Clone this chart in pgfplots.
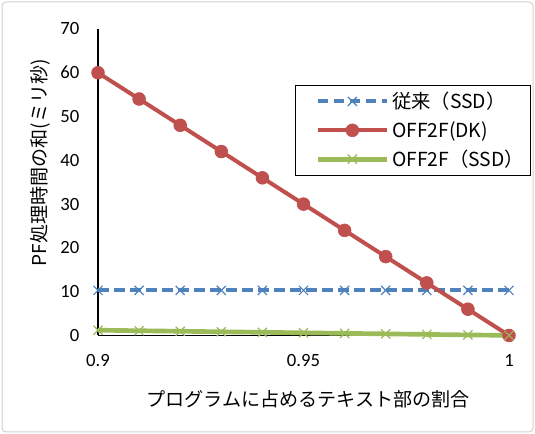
\documentclass[border=0pt]{standalone}
\usepackage{fontspec}
\setmainfont{Noto Sans CJK JP}
\newfontfamily\numfont{Carlito}
\usepackage{pgfplots}
\pgfplotsset{compat=1.18}

\definecolor{xlblue}{HTML}{4F81BD}
\definecolor{xlred}{HTML}{C0504D}
\definecolor{xlgreen}{HTML}{9BBB59}

% PF processing time vs. share of text section in the program
\pgfplotstableread{
x     base   dk    ssd
0.90  10.3   60    1.20
0.91  10.3   54    1.08
0.92  10.3   48    0.96
0.93  10.3   42    0.84
0.94  10.3   36    0.72
0.95  10.3   30    0.60
0.96  10.3   24    0.48
0.97  10.3   18    0.36
0.98  10.3   12    0.24
0.99  10.3    6    0.12
1.00  10.3    0    0.02
}\timedata

\begin{document}
\begin{tikzpicture}[x=1pt,y=1pt]
  % canvas and chart frame
  \path (0,0) rectangle (401.25,325.5);
  \draw[black!18, line width=0.75pt, rounded corners=3pt] (1.5,1.5) rectangle (399.75,324);
  \begin{axis}[
    at={(73.5pt,73.9pt)}, anchor=south west,
    scale only axis, width=308.25pt, height=229.9pt,
    xmin=0.9, xmax=1.0, ymin=0, ymax=70,
    xtick={0.9,0.95,1}, ytick={0,10,...,70},
    axis x line=bottom, axis y line=left,
    axis line style={-, black, line width=1pt},
    major tick length=0pt,
    /pgf/number format/assume math mode=true,
    ticklabel style={font=\numfont\fontsize{14}{16}\selectfont},
    xticklabel style={yshift=-10.5pt},
    yticklabel style={xshift=-10.5pt},
    xlabel={プログラムに占めるテキスト部の割合},
    ylabel={PF処理時間の和(ミリ秒)},
    label style={font=\fontsize{14.3}{16}\selectfont},
    xlabel style={at={(axis description cs:0.511,-0.207)}, anchor=center},
    ylabel style={at={(axis description cs:-0.141,0.563)}, anchor=center},
    clip=false,
    legend style={at={(axis description cs:0.479,0.817)}, anchor=north west,
      draw=black, line width=0.75pt, font=\fontsize{14.5}{17}\selectfont,
      row sep=4pt, inner sep=3pt,
      /tikz/every even column/.append style={column sep=2pt}},
    legend cell align=left,
    legend image code/.code={%
      \path (-12pt,0pt) (52pt,0pt);
      \draw[mark repeat=2, mark phase=2] plot coordinates {(0pt,0pt) (26pt,0pt) (52pt,0pt)};},
  ]
    \addplot[xlblue, line width=3pt, dash pattern=on 8pt off 4pt,
      mark=x, mark size=4.8pt, mark options={solid, line width=0.9pt}]
      table[x=x, y=base] {\timedata};
    \addlegendentry{従来（SSD）}
    \addplot[xlred, line width=3pt,
      mark=*, mark size=4.8pt, mark options={solid, fill=xlred, line width=0.5pt}]
      table[x=x, y=dk] {\timedata};
    \addlegendentry{OFF2F(DK)}
    \addplot[xlgreen, line width=3.5pt,
      mark=x, mark size=4.8pt, mark options={solid, line width=0.9pt}]
      table[x=x, y=ssd] {\timedata};
    \addlegendentry{OFF2F（SSD）}
  \end{axis}
\end{tikzpicture}
\end{document}
